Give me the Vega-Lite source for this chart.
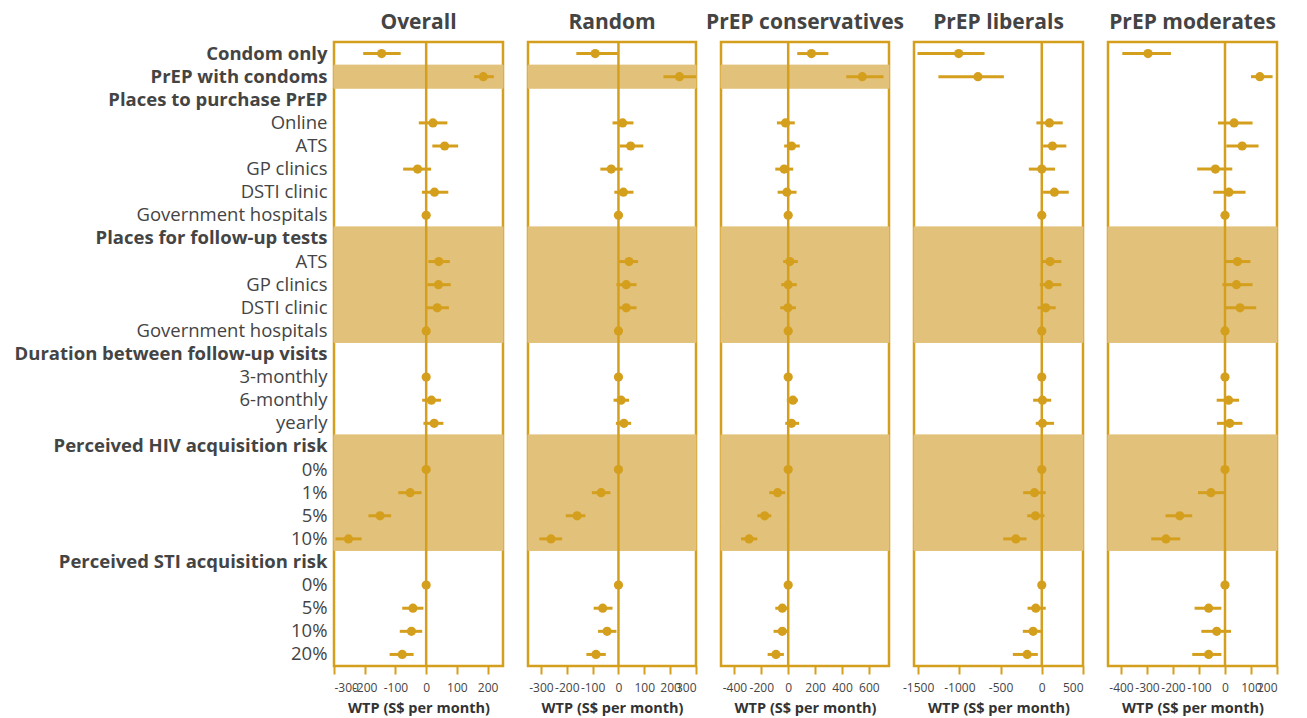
{
  "$schema": "https://vega.github.io/schema/vega-lite/v6.json",
  "padding": {"left": 12, "top": 10, "right": 5, "bottom": 2},
  "spacing": 25,
  "bounds": "flush",
  "background": "white",
  "config": {
    "font": "Open Sans",
    "view": {"stroke": "#d59f1e", "strokeWidth": 2.5},
    "title": {"fontSize": 21, "fontWeight": "bold", "color": "#444444", "offset": 8, "anchor": "middle"},
    "axisX": {"domain": false, "grid": false, "tickColor": "#d59f1e", "tickWidth": 2, "tickSize": 8, "labelFontSize": 12, "labelColor": "#444444", "labelPadding": 8, "labelOverlap": false, "labelExpr": "'' + datum.value", "titleFontSize": 14.5, "titleFontWeight": "bold", "titleColor": "#333333", "titlePadding": 8},
    "axisY": {"domain": false, "grid": false, "ticks": false}
  },
  "datasets": {
    "ref": [{"zero": 0}],
    "shade": [
      {"panel": "Overall", "key": "02b|PrEP with condoms"},
      {"panel": "Random", "key": "02b|PrEP with condoms"},
      {"panel": "PrEP conservatives", "key": "02b|PrEP with condoms"},
      {"panel": "Overall", "key": "09b|Places for follow-up tests"},
      {"panel": "Overall", "key": "10n|ATS"},
      {"panel": "Overall", "key": "11n|GP clinics"},
      {"panel": "Overall", "key": "12n|DSTI clinic"},
      {"panel": "Overall", "key": "13n|Government hospitals"},
      {"panel": "Overall", "key": "18b|Perceived HIV acquisition risk"},
      {"panel": "Overall", "key": "19n|0%"},
      {"panel": "Overall", "key": "20n|1%"},
      {"panel": "Overall", "key": "21n|5%"},
      {"panel": "Overall", "key": "22n|10%"},
      {"panel": "Random", "key": "09b|Places for follow-up tests"},
      {"panel": "Random", "key": "10n|ATS"},
      {"panel": "Random", "key": "11n|GP clinics"},
      {"panel": "Random", "key": "12n|DSTI clinic"},
      {"panel": "Random", "key": "13n|Government hospitals"},
      {"panel": "Random", "key": "18b|Perceived HIV acquisition risk"},
      {"panel": "Random", "key": "19n|0%"},
      {"panel": "Random", "key": "20n|1%"},
      {"panel": "Random", "key": "21n|5%"},
      {"panel": "Random", "key": "22n|10%"},
      {"panel": "PrEP conservatives", "key": "09b|Places for follow-up tests"},
      {"panel": "PrEP conservatives", "key": "10n|ATS"},
      {"panel": "PrEP conservatives", "key": "11n|GP clinics"},
      {"panel": "PrEP conservatives", "key": "12n|DSTI clinic"},
      {"panel": "PrEP conservatives", "key": "13n|Government hospitals"},
      {"panel": "PrEP conservatives", "key": "18b|Perceived HIV acquisition risk"},
      {"panel": "PrEP conservatives", "key": "19n|0%"},
      {"panel": "PrEP conservatives", "key": "20n|1%"},
      {"panel": "PrEP conservatives", "key": "21n|5%"},
      {"panel": "PrEP conservatives", "key": "22n|10%"},
      {"panel": "PrEP liberals", "key": "09b|Places for follow-up tests"},
      {"panel": "PrEP liberals", "key": "10n|ATS"},
      {"panel": "PrEP liberals", "key": "11n|GP clinics"},
      {"panel": "PrEP liberals", "key": "12n|DSTI clinic"},
      {"panel": "PrEP liberals", "key": "13n|Government hospitals"},
      {"panel": "PrEP liberals", "key": "18b|Perceived HIV acquisition risk"},
      {"panel": "PrEP liberals", "key": "19n|0%"},
      {"panel": "PrEP liberals", "key": "20n|1%"},
      {"panel": "PrEP liberals", "key": "21n|5%"},
      {"panel": "PrEP liberals", "key": "22n|10%"},
      {"panel": "PrEP moderates", "key": "09b|Places for follow-up tests"},
      {"panel": "PrEP moderates", "key": "10n|ATS"},
      {"panel": "PrEP moderates", "key": "11n|GP clinics"},
      {"panel": "PrEP moderates", "key": "12n|DSTI clinic"},
      {"panel": "PrEP moderates", "key": "13n|Government hospitals"},
      {"panel": "PrEP moderates", "key": "18b|Perceived HIV acquisition risk"},
      {"panel": "PrEP moderates", "key": "19n|0%"},
      {"panel": "PrEP moderates", "key": "20n|1%"},
      {"panel": "PrEP moderates", "key": "21n|5%"},
      {"panel": "PrEP moderates", "key": "22n|10%"}
    ],
    "est": [
      {"panel": "Overall", "key": "01b|Condom only", "est": -145, "lo": -205, "hi": -83},
      {"panel": "Overall", "key": "02b|PrEP with condoms", "est": 186, "lo": 156, "hi": 220},
      {"panel": "Overall", "key": "04n|Online", "est": 22, "lo": -24, "hi": 69},
      {"panel": "Overall", "key": "05n|ATS", "est": 60, "lo": 20, "hi": 104},
      {"panel": "Overall", "key": "06n|GP clinics", "est": -28, "lo": -75, "hi": 16},
      {"panel": "Overall", "key": "07n|DSTI clinic", "est": 27, "lo": -14, "hi": 72},
      {"panel": "Overall", "key": "08n|Government hospitals", "est": 0, "lo": null, "hi": null},
      {"panel": "Overall", "key": "10n|ATS", "est": 41, "lo": 7, "hi": 77},
      {"panel": "Overall", "key": "11n|GP clinics", "est": 40, "lo": 4, "hi": 80},
      {"panel": "Overall", "key": "12n|DSTI clinic", "est": 36, "lo": 1, "hi": 74},
      {"panel": "Overall", "key": "13n|Government hospitals", "est": 0, "lo": null, "hi": null},
      {"panel": "Overall", "key": "15n|3-monthly", "est": 0, "lo": null, "hi": null},
      {"panel": "Overall", "key": "16n|6-monthly", "est": 17, "lo": -13, "hi": 48},
      {"panel": "Overall", "key": "17n|yearly", "est": 26, "lo": -9, "hi": 56},
      {"panel": "Overall", "key": "19n|0%", "est": 0, "lo": null, "hi": null},
      {"panel": "Overall", "key": "20n|1%", "est": -52, "lo": -91, "hi": -15},
      {"panel": "Overall", "key": "21n|5%", "est": -150, "lo": -188, "hi": -114},
      {"panel": "Overall", "key": "22n|10%", "est": -253, "lo": -295, "hi": -210},
      {"panel": "Overall", "key": "24n|0%", "est": 0, "lo": null, "hi": null},
      {"panel": "Overall", "key": "25n|5%", "est": -43, "lo": -78, "hi": -9},
      {"panel": "Overall", "key": "26n|10%", "est": -48, "lo": -86, "hi": -13},
      {"panel": "Overall", "key": "27n|20%", "est": -78, "lo": -119, "hi": -41},

      {"panel": "Random", "key": "01b|Condom only", "est": -90, "lo": -163, "hi": -3},
      {"panel": "Random", "key": "02b|PrEP with condoms", "est": 236, "lo": 174, "hi": 300},
      {"panel": "Random", "key": "04n|Online", "est": 16, "lo": -23, "hi": 58},
      {"panel": "Random", "key": "05n|ATS", "est": 47, "lo": 5, "hi": 96},
      {"panel": "Random", "key": "06n|GP clinics", "est": -28, "lo": -70, "hi": 16},
      {"panel": "Random", "key": "07n|DSTI clinic", "est": 19, "lo": -16, "hi": 58},
      {"panel": "Random", "key": "08n|Government hospitals", "est": 0, "lo": null, "hi": null},
      {"panel": "Random", "key": "10n|ATS", "est": 41, "lo": 3, "hi": 76},
      {"panel": "Random", "key": "11n|GP clinics", "est": 30, "lo": -8, "hi": 70},
      {"panel": "Random", "key": "12n|DSTI clinic", "est": 30, "lo": 1, "hi": 70},
      {"panel": "Random", "key": "13n|Government hospitals", "est": 0, "lo": null, "hi": null},
      {"panel": "Random", "key": "15n|3-monthly", "est": 0, "lo": null, "hi": null},
      {"panel": "Random", "key": "16n|6-monthly", "est": 10, "lo": -19, "hi": 41},
      {"panel": "Random", "key": "17n|yearly", "est": 21, "lo": -10, "hi": 49},
      {"panel": "Random", "key": "19n|0%", "est": 0, "lo": null, "hi": null},
      {"panel": "Random", "key": "20n|1%", "est": -67, "lo": -103, "hi": -31},
      {"panel": "Random", "key": "21n|5%", "est": -160, "lo": -204, "hi": -128},
      {"panel": "Random", "key": "22n|10%", "est": -261, "lo": -306, "hi": -218},
      {"panel": "Random", "key": "24n|0%", "est": 0, "lo": null, "hi": null},
      {"panel": "Random", "key": "25n|5%", "est": -61, "lo": -96, "hi": -23},
      {"panel": "Random", "key": "26n|10%", "est": -44, "lo": -79, "hi": -8},
      {"panel": "Random", "key": "27n|20%", "est": -87, "lo": -124, "hi": -49},

      {"panel": "PrEP conservatives", "key": "01b|Condom only", "est": 173, "lo": 67, "hi": 299},
      {"panel": "PrEP conservatives", "key": "02b|PrEP with condoms", "est": 551, "lo": 432, "hi": 709},
      {"panel": "PrEP conservatives", "key": "04n|Online", "est": -20, "lo": -84, "hi": 49},
      {"panel": "PrEP conservatives", "key": "05n|ATS", "est": 25, "lo": -30, "hi": 86},
      {"panel": "PrEP conservatives", "key": "06n|GP clinics", "est": -30, "lo": -96, "hi": 37},
      {"panel": "PrEP conservatives", "key": "07n|DSTI clinic", "est": -10, "lo": -79, "hi": 62},
      {"panel": "PrEP conservatives", "key": "08n|Government hospitals", "est": 0, "lo": null, "hi": null},
      {"panel": "PrEP conservatives", "key": "10n|ATS", "est": 12, "lo": -37, "hi": 72},
      {"panel": "PrEP conservatives", "key": "11n|GP clinics", "est": 0, "lo": -52, "hi": 64},
      {"panel": "PrEP conservatives", "key": "12n|DSTI clinic", "est": -2, "lo": -59, "hi": 57},
      {"panel": "PrEP conservatives", "key": "13n|Government hospitals", "est": 0, "lo": null, "hi": null},
      {"panel": "PrEP conservatives", "key": "15n|3-monthly", "est": 0, "lo": null, "hi": null},
      {"panel": "PrEP conservatives", "key": "16n|6-monthly", "est": 35, "lo": -10, "hi": 72},
      {"panel": "PrEP conservatives", "key": "17n|yearly", "est": 25, "lo": -22, "hi": 81},
      {"panel": "PrEP conservatives", "key": "19n|0%", "est": 0, "lo": null, "hi": null},
      {"panel": "PrEP conservatives", "key": "20n|1%", "est": -79, "lo": -141, "hi": -22},
      {"panel": "PrEP conservatives", "key": "21n|5%", "est": -175, "lo": -230, "hi": -126},
      {"panel": "PrEP conservatives", "key": "22n|10%", "est": -291, "lo": -351, "hi": -230},
      {"panel": "PrEP conservatives", "key": "24n|0%", "est": 0, "lo": null, "hi": null},
      {"panel": "PrEP conservatives", "key": "25n|5%", "est": -44, "lo": -96, "hi": -5},
      {"panel": "PrEP conservatives", "key": "26n|10%", "est": -44, "lo": -109, "hi": 5},
      {"panel": "PrEP conservatives", "key": "27n|20%", "est": -91, "lo": -153, "hi": -32},

      {"panel": "PrEP liberals", "key": "01b|Condom only", "est": -1008, "lo": -1508, "hi": -694},
      {"panel": "PrEP liberals", "key": "02b|PrEP with condoms", "est": -774, "lo": -1254, "hi": -460},
      {"panel": "PrEP liberals", "key": "04n|Online", "est": 93, "lo": -65, "hi": 254},
      {"panel": "PrEP liberals", "key": "05n|ATS", "est": 129, "lo": 16, "hi": 298},
      {"panel": "PrEP liberals", "key": "06n|GP clinics", "est": 0, "lo": -157, "hi": 161},
      {"panel": "PrEP liberals", "key": "07n|DSTI clinic", "est": 153, "lo": 16, "hi": 327},
      {"panel": "PrEP liberals", "key": "08n|Government hospitals", "est": 0, "lo": null, "hi": null},
      {"panel": "PrEP liberals", "key": "10n|ATS", "est": 101, "lo": 4, "hi": 238},
      {"panel": "PrEP liberals", "key": "11n|GP clinics", "est": 85, "lo": -24, "hi": 238},
      {"panel": "PrEP liberals", "key": "12n|DSTI clinic", "est": 48, "lo": -52, "hi": 169},
      {"panel": "PrEP liberals", "key": "13n|Government hospitals", "est": 0, "lo": null, "hi": null},
      {"panel": "PrEP liberals", "key": "15n|3-monthly", "est": 0, "lo": null, "hi": null},
      {"panel": "PrEP liberals", "key": "16n|6-monthly", "est": 8, "lo": -105, "hi": 113},
      {"panel": "PrEP liberals", "key": "17n|yearly", "est": 8, "lo": -73, "hi": 149},
      {"panel": "PrEP liberals", "key": "19n|0%", "est": 0, "lo": null, "hi": null},
      {"panel": "PrEP liberals", "key": "20n|1%", "est": -89, "lo": -226, "hi": 48},
      {"panel": "PrEP liberals", "key": "21n|5%", "est": -77, "lo": -177, "hi": 32},
      {"panel": "PrEP liberals", "key": "22n|10%", "est": -315, "lo": -468, "hi": -185},
      {"panel": "PrEP liberals", "key": "24n|0%", "est": 0, "lo": null, "hi": null},
      {"panel": "PrEP liberals", "key": "25n|5%", "est": -73, "lo": -173, "hi": 48},
      {"panel": "PrEP liberals", "key": "26n|10%", "est": -105, "lo": -230, "hi": 0},
      {"panel": "PrEP liberals", "key": "27n|20%", "est": -177, "lo": -351, "hi": -48},

      {"panel": "PrEP moderates", "key": "01b|Condom only", "est": -296, "lo": -395, "hi": -208},
      {"panel": "PrEP moderates", "key": "02b|PrEP with condoms", "est": 134, "lo": 100, "hi": 183},
      {"panel": "PrEP moderates", "key": "04n|Online", "est": 35, "lo": -27, "hi": 106},
      {"panel": "PrEP moderates", "key": "05n|ATS", "est": 66, "lo": 5, "hi": 129},
      {"panel": "PrEP moderates", "key": "06n|GP clinics", "est": -37, "lo": -107, "hi": 28},
      {"panel": "PrEP moderates", "key": "07n|DSTI clinic", "est": 15, "lo": -45, "hi": 79},
      {"panel": "PrEP moderates", "key": "08n|Government hospitals", "est": 0, "lo": null, "hi": null},
      {"panel": "PrEP moderates", "key": "10n|ATS", "est": 48, "lo": 3, "hi": 98},
      {"panel": "PrEP moderates", "key": "11n|GP clinics", "est": 44, "lo": -10, "hi": 106},
      {"panel": "PrEP moderates", "key": "12n|DSTI clinic", "est": 58, "lo": 3, "hi": 120},
      {"panel": "PrEP moderates", "key": "13n|Government hospitals", "est": 0, "lo": null, "hi": null},
      {"panel": "PrEP moderates", "key": "15n|3-monthly", "est": 0, "lo": null, "hi": null},
      {"panel": "PrEP moderates", "key": "16n|6-monthly", "est": 14, "lo": -32, "hi": 54},
      {"panel": "PrEP moderates", "key": "17n|yearly", "est": 18, "lo": -31, "hi": 67},
      {"panel": "PrEP moderates", "key": "19n|0%", "est": 0, "lo": null, "hi": null},
      {"panel": "PrEP moderates", "key": "20n|1%", "est": -54, "lo": -104, "hi": 0},
      {"panel": "PrEP moderates", "key": "21n|5%", "est": -174, "lo": -229, "hi": -126},
      {"panel": "PrEP moderates", "key": "22n|10%", "est": -227, "lo": -284, "hi": -172},
      {"panel": "PrEP moderates", "key": "24n|0%", "est": 0, "lo": null, "hi": null},
      {"panel": "PrEP moderates", "key": "25n|5%", "est": -63, "lo": -117, "hi": -14},
      {"panel": "PrEP moderates", "key": "26n|10%", "est": -32, "lo": -91, "hi": 23},
      {"panel": "PrEP moderates", "key": "27n|20%", "est": -63, "lo": -126, "hi": -14}
    ]
  },
  "hconcat": [
    {
      "width": 169, "height": 624, "title": "Overall",
      "layer": [
        {"data": {"name": "shade"}, "transform": [{"filter": "datum.panel == 'Overall'"}],
         "mark": {"type": "rect", "color": "#e2c27b", "stroke": "#e2c27b", "strokeWidth": 1},
         "encoding": {"y": {"field": "key", "type": "nominal", "title": null,
           "scale": {"type": "band", "paddingInner": 0, "paddingOuter": 0, "domain": ["01b|Condom only","02b|PrEP with condoms","03b|Places to purchase PrEP","04n|Online","05n|ATS","06n|GP clinics","07n|DSTI clinic","08n|Government hospitals","09b|Places for follow-up tests","10n|ATS","11n|GP clinics","12n|DSTI clinic","13n|Government hospitals","14b|Duration between follow-up visits","15n|3-monthly","16n|6-monthly","17n|yearly","18b|Perceived HIV acquisition risk","19n|0%","20n|1%","21n|5%","22n|10%","23b|Perceived STI acquisition risk","24n|0%","25n|5%","26n|10%","27n|20%"]},
           "axis": {"labelExpr": "substring(datum.value, 4)", "labelFontSize": 18.5, "labelColor": "#444444", "labelPadding": 7, "labelLimit": 500,
             "labelFontWeight": {"condition": {"test": "substring(datum.value, 2, 3) == 'b'", "value": "bold"}, "value": "normal"}}}}},
        {"data": {"name": "ref"}, "mark": {"type": "rule", "color": "#d59f1e", "strokeWidth": 2.5},
         "encoding": {"x": {"field": "zero", "type": "quantitative", "title": "WTP (S$ per month)",
           "scale": {"domain": [-300, 250], "nice": false, "zero": false},
           "axis": {"values": [-300, -200, -100, 0, 100, 200]}}}},
        {"data": {"name": "est"}, "transform": [{"filter": "datum.panel == 'Overall'"}],
         "mark": {"type": "rule", "color": "#d59f1e", "strokeWidth": 3},
         "encoding": {"x": {"field": "lo", "type": "quantitative", "title": "WTP (S$ per month)",
           "scale": {"domain": [-300, 250], "nice": false, "zero": false},
           "axis": {"values": [-300, -200, -100, 0, 100, 200]}}, "x2": {"field": "hi"},
           "y": {"field": "key", "type": "nominal"}}},
        {"data": {"name": "est"}, "transform": [{"filter": "datum.panel == 'Overall'"}],
         "mark": {"type": "circle", "color": "#d59f1e", "size": 85, "opacity": 1},
         "encoding": {"x": {"field": "est", "type": "quantitative", "title": "WTP (S$ per month)",
           "scale": {"domain": [-300, 250], "nice": false, "zero": false},
           "axis": {"values": [-300, -200, -100, 0, 100, 200]}},
           "y": {"field": "key", "type": "nominal"}}}
      ]
    },
    {
      "width": 168, "height": 624, "title": "Random",
      "layer": [
        {"data": {"name": "shade"}, "transform": [{"filter": "datum.panel == 'Random'"}],
         "mark": {"type": "rect", "color": "#e2c27b", "stroke": "#e2c27b", "strokeWidth": 1},
         "encoding": {"y": {"field": "key", "type": "nominal", "axis": null,
           "scale": {"type": "band", "paddingInner": 0, "paddingOuter": 0, "domain": ["01b|Condom only","02b|PrEP with condoms","03b|Places to purchase PrEP","04n|Online","05n|ATS","06n|GP clinics","07n|DSTI clinic","08n|Government hospitals","09b|Places for follow-up tests","10n|ATS","11n|GP clinics","12n|DSTI clinic","13n|Government hospitals","14b|Duration between follow-up visits","15n|3-monthly","16n|6-monthly","17n|yearly","18b|Perceived HIV acquisition risk","19n|0%","20n|1%","21n|5%","22n|10%","23b|Perceived STI acquisition risk","24n|0%","25n|5%","26n|10%","27n|20%"]}}}},
        {"data": {"name": "ref"}, "mark": {"type": "rule", "color": "#d59f1e", "strokeWidth": 2.5},
         "encoding": {"x": {"field": "zero", "type": "quantitative", "title": "WTP (S$ per month)",
           "scale": {"domain": [-350, 300], "nice": false, "zero": false},
           "axis": {"values": [-300, -200, -100, 0, 100, 200, 300]}}}},
        {"data": {"name": "est"}, "transform": [{"filter": "datum.panel == 'Random'"}],
         "mark": {"type": "rule", "color": "#d59f1e", "strokeWidth": 3},
         "encoding": {"x": {"field": "lo", "type": "quantitative", "title": "WTP (S$ per month)",
           "scale": {"domain": [-350, 300], "nice": false, "zero": false},
           "axis": {"values": [-300, -200, -100, 0, 100, 200, 300]}}, "x2": {"field": "hi"},
           "y": {"field": "key", "type": "nominal", "axis": null}}},
        {"data": {"name": "est"}, "transform": [{"filter": "datum.panel == 'Random'"}],
         "mark": {"type": "circle", "color": "#d59f1e", "size": 85, "opacity": 1},
         "encoding": {"x": {"field": "est", "type": "quantitative", "title": "WTP (S$ per month)",
           "scale": {"domain": [-350, 300], "nice": false, "zero": false},
           "axis": {"values": [-300, -200, -100, 0, 100, 200, 300]}},
           "y": {"field": "key", "type": "nominal", "axis": null}}}
      ]
    },
    {
      "width": 168, "height": 624, "title": "PrEP conservatives",
      "layer": [
        {"data": {"name": "shade"}, "transform": [{"filter": "datum.panel == 'PrEP conservatives'"}],
         "mark": {"type": "rect", "color": "#e2c27b", "stroke": "#e2c27b", "strokeWidth": 1},
         "encoding": {"y": {"field": "key", "type": "nominal", "axis": null,
           "scale": {"type": "band", "paddingInner": 0, "paddingOuter": 0, "domain": ["01b|Condom only","02b|PrEP with condoms","03b|Places to purchase PrEP","04n|Online","05n|ATS","06n|GP clinics","07n|DSTI clinic","08n|Government hospitals","09b|Places for follow-up tests","10n|ATS","11n|GP clinics","12n|DSTI clinic","13n|Government hospitals","14b|Duration between follow-up visits","15n|3-monthly","16n|6-monthly","17n|yearly","18b|Perceived HIV acquisition risk","19n|0%","20n|1%","21n|5%","22n|10%","23b|Perceived STI acquisition risk","24n|0%","25n|5%","26n|10%","27n|20%"]}}}},
        {"data": {"name": "ref"}, "mark": {"type": "rule", "color": "#d59f1e", "strokeWidth": 2.5},
         "encoding": {"x": {"field": "zero", "type": "quantitative", "title": "WTP (S$ per month)",
           "scale": {"domain": [-500, 750], "nice": false, "zero": false},
           "axis": {"values": [-400, -200, 0, 200, 400, 600]}}}},
        {"data": {"name": "est"}, "transform": [{"filter": "datum.panel == 'PrEP conservatives'"}],
         "mark": {"type": "rule", "color": "#d59f1e", "strokeWidth": 3},
         "encoding": {"x": {"field": "lo", "type": "quantitative", "title": "WTP (S$ per month)",
           "scale": {"domain": [-500, 750], "nice": false, "zero": false},
           "axis": {"values": [-400, -200, 0, 200, 400, 600]}}, "x2": {"field": "hi"},
           "y": {"field": "key", "type": "nominal", "axis": null}}},
        {"data": {"name": "est"}, "transform": [{"filter": "datum.panel == 'PrEP conservatives'"}],
         "mark": {"type": "circle", "color": "#d59f1e", "size": 85, "opacity": 1},
         "encoding": {"x": {"field": "est", "type": "quantitative", "title": "WTP (S$ per month)",
           "scale": {"domain": [-500, 750], "nice": false, "zero": false},
           "axis": {"values": [-400, -200, 0, 200, 400, 600]}},
           "y": {"field": "key", "type": "nominal", "axis": null}}}
      ]
    },
    {
      "width": 169, "height": 624, "title": "PrEP liberals",
      "layer": [
        {"data": {"name": "shade"}, "transform": [{"filter": "datum.panel == 'PrEP liberals'"}],
         "mark": {"type": "rect", "color": "#e2c27b", "stroke": "#e2c27b", "strokeWidth": 1},
         "encoding": {"y": {"field": "key", "type": "nominal", "axis": null,
           "scale": {"type": "band", "paddingInner": 0, "paddingOuter": 0, "domain": ["01b|Condom only","02b|PrEP with condoms","03b|Places to purchase PrEP","04n|Online","05n|ATS","06n|GP clinics","07n|DSTI clinic","08n|Government hospitals","09b|Places for follow-up tests","10n|ATS","11n|GP clinics","12n|DSTI clinic","13n|Government hospitals","14b|Duration between follow-up visits","15n|3-monthly","16n|6-monthly","17n|yearly","18b|Perceived HIV acquisition risk","19n|0%","20n|1%","21n|5%","22n|10%","23b|Perceived STI acquisition risk","24n|0%","25n|5%","26n|10%","27n|20%"]}}}},
        {"data": {"name": "ref"}, "mark": {"type": "rule", "color": "#d59f1e", "strokeWidth": 2.5},
         "encoding": {"x": {"field": "zero", "type": "quantitative", "title": "WTP (S$ per month)",
           "scale": {"domain": [-1550, 500], "nice": false, "zero": false},
           "axis": {"values": [-1500, -1000, -500, 0, 500]}}}},
        {"data": {"name": "est"}, "transform": [{"filter": "datum.panel == 'PrEP liberals'"}],
         "mark": {"type": "rule", "color": "#d59f1e", "strokeWidth": 3},
         "encoding": {"x": {"field": "lo", "type": "quantitative", "title": "WTP (S$ per month)",
           "scale": {"domain": [-1550, 500], "nice": false, "zero": false},
           "axis": {"values": [-1500, -1000, -500, 0, 500]}}, "x2": {"field": "hi"},
           "y": {"field": "key", "type": "nominal", "axis": null}}},
        {"data": {"name": "est"}, "transform": [{"filter": "datum.panel == 'PrEP liberals'"}],
         "mark": {"type": "circle", "color": "#d59f1e", "size": 85, "opacity": 1},
         "encoding": {"x": {"field": "est", "type": "quantitative", "title": "WTP (S$ per month)",
           "scale": {"domain": [-1550, 500], "nice": false, "zero": false},
           "axis": {"values": [-1500, -1000, -500, 0, 500]}},
           "y": {"field": "key", "type": "nominal", "axis": null}}}
      ]
    },
    {
      "width": 169, "height": 624, "title": "PrEP moderates",
      "layer": [
        {"data": {"name": "shade"}, "transform": [{"filter": "datum.panel == 'PrEP moderates'"}],
         "mark": {"type": "rect", "color": "#e2c27b", "stroke": "#e2c27b", "strokeWidth": 1},
         "encoding": {"y": {"field": "key", "type": "nominal", "axis": null,
           "scale": {"type": "band", "paddingInner": 0, "paddingOuter": 0, "domain": ["01b|Condom only","02b|PrEP with condoms","03b|Places to purchase PrEP","04n|Online","05n|ATS","06n|GP clinics","07n|DSTI clinic","08n|Government hospitals","09b|Places for follow-up tests","10n|ATS","11n|GP clinics","12n|DSTI clinic","13n|Government hospitals","14b|Duration between follow-up visits","15n|3-monthly","16n|6-monthly","17n|yearly","18b|Perceived HIV acquisition risk","19n|0%","20n|1%","21n|5%","22n|10%","23b|Perceived STI acquisition risk","24n|0%","25n|5%","26n|10%","27n|20%"]}}}},
        {"data": {"name": "ref"}, "mark": {"type": "rule", "color": "#d59f1e", "strokeWidth": 2.5},
         "encoding": {"x": {"field": "zero", "type": "quantitative", "title": "WTP (S$ per month)",
           "scale": {"domain": [-450, 200], "nice": false, "zero": false},
           "axis": {"values": [-400, -300, -200, -100, 0, 100, 200]}}}},
        {"data": {"name": "est"}, "transform": [{"filter": "datum.panel == 'PrEP moderates'"}],
         "mark": {"type": "rule", "color": "#d59f1e", "strokeWidth": 3},
         "encoding": {"x": {"field": "lo", "type": "quantitative", "title": "WTP (S$ per month)",
           "scale": {"domain": [-450, 200], "nice": false, "zero": false},
           "axis": {"values": [-400, -300, -200, -100, 0, 100, 200]}}, "x2": {"field": "hi"},
           "y": {"field": "key", "type": "nominal", "axis": null}}},
        {"data": {"name": "est"}, "transform": [{"filter": "datum.panel == 'PrEP moderates'"}],
         "mark": {"type": "circle", "color": "#d59f1e", "size": 85, "opacity": 1},
         "encoding": {"x": {"field": "est", "type": "quantitative", "title": "WTP (S$ per month)",
           "scale": {"domain": [-450, 200], "nice": false, "zero": false},
           "axis": {"values": [-400, -300, -200, -100, 0, 100, 200]}},
           "y": {"field": "key", "type": "nominal", "axis": null}}}
      ]
    }
  ]
}
